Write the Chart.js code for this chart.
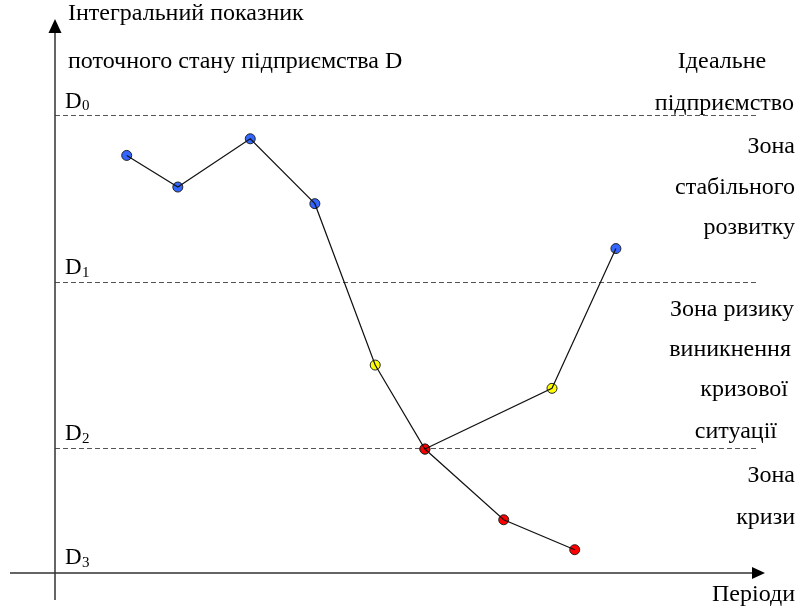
<!DOCTYPE html>
<html>
<head>
<meta charset="utf-8">
<script src="https://cdn.jsdelivr.net/npm/chart.js@4/dist/chart.umd.min.js"></script>
<style>
  html, body { margin: 0; padding: 0; background: #fff; }
  #wrap { width: 797px; height: 608px; position: relative; }
</style>
</head>
<body>
<div id="wrap"><canvas id="zoneChart"></canvas></div>
<script>
// періоди (x) і значення показника D (y)
const periods    = [1.01, 1.73, 2.75, 3.66, 4.51, 5.21, 6.32, 7.32];
const values     = [2.51, 2.32, 2.61, 2.22, 1.25, 0.745, 0.32, 0.14];
const zoneColors = ['#3366ff', '#3366ff', '#3366ff', '#3366ff', '#ffff00', '#ff0000', '#ff0000', '#ff0000'];

// гілка виходу з кризи
const recoveryPeriods = [5.21, 7.0, 7.9];
const recoveryValues  = [0.745, 1.11, 1.95];
const recoveryColors  = ['#ff0000', '#ffff00', '#3366ff'];

// межі зон D0, D1, D2
const levels      = [2.75, 1.75, 0.75];
const levelLabels = ['0', '1', '2'];

const toXY = (xs, ys) => xs.map((x, i) => ({ x: x, y: ys[i] }));

const serif = '"Liberation Serif", "DejaVu Serif", serif';

/* ▼ осі, пунктирні рівні та підписи */
const schemePlugin = {
  id: 'scheme',
  beforeDatasetsDraw(chart) {
    const { ctx } = chart;
    const xs = chart.scales.x, ys = chart.scales.y;
    const x0 = xs.getPixelForValue(0);
    const y0 = ys.getPixelForValue(0);
    const xEnd = xs.getPixelForValue(10);

    ctx.save();
    // пунктир
    ctx.strokeStyle = '#555';
    ctx.lineWidth = 1;
    ctx.setLineDash([5, 3]);
    levels.forEach(v => {
      const py = Math.round(ys.getPixelForValue(v)) + 0.5;
      ctx.beginPath();
      ctx.moveTo(x0, py);
      ctx.lineTo(757, py);
      ctx.stroke();
    });
    ctx.setLineDash([]);

    // осі
    ctx.strokeStyle = '#333';
    ctx.lineWidth = 1.5;
    ctx.beginPath();
    ctx.moveTo(x0, 600);
    ctx.lineTo(x0, 30);
    ctx.moveTo(10, y0);
    ctx.lineTo(xEnd - 10, y0);
    ctx.stroke();

    ctx.fillStyle = '#000';
    ctx.beginPath();
    ctx.moveTo(x0, 19);
    ctx.lineTo(x0 - 6.5, 33);
    ctx.lineTo(x0 + 6.5, 33);
    ctx.closePath();
    ctx.fill();
    ctx.beginPath();
    ctx.moveTo(xEnd, y0);
    ctx.lineTo(xEnd - 13, y0 - 6);
    ctx.lineTo(xEnd - 13, y0 + 6);
    ctx.closePath();
    ctx.fill();

    // підписи
    ctx.fillStyle = '#000';
    ctx.textBaseline = 'middle';
    const text = (s, x, y, align, size) => {
      ctx.font = (size || 24) + 'px ' + serif;
      ctx.textAlign = align || 'left';
      ctx.fillText(s, x, y);
    };
    text('Інтегральний показник', 68, 14);
    text('поточного стану підприємства D', 68, 62);
    text('Ідеальне', 722, 62, 'center');
    text('підприємство', 794, 104, 'right');
    text('Зона', 795, 147, 'right');
    text('стабільного', 795, 188, 'right');
    text('розвитку', 795, 228, 'right');
    text('Зона ризику', 794, 310, 'right');
    text('виникнення', 791, 350, 'right');
    text('кризової', 788, 390, 'right');
    text('ситуації', 777, 432, 'right');
    text('Зона', 795, 476, 'right');
    text('кризи', 795, 518, 'right');
    text('Періоди', 795, 595, 'right');

    // D0..D3
    const dLabel = (sub, py) => {
      text('D', 65, py, 'left', 23);
      text(sub, 82, py + 5, 'left', 15);
    };
    levels.forEach((v, i) => dLabel(levelLabels[i], ys.getPixelForValue(v) - 14));
    dLabel('3', 558);
    ctx.restore();
  }
};

new Chart(document.getElementById('zoneChart'), {
  type: 'scatter',
  data: {
    datasets: [
      // лінії поверх точок
      { data: toXY(periods, values), showLine: true, borderColor: '#111', borderWidth: 1.2,
        pointRadius: 0, order: 0 },
      { data: toXY(recoveryPeriods, recoveryValues), showLine: true, borderColor: '#111', borderWidth: 1.2,
        pointRadius: 0, order: 0 },
      { data: toXY(periods, values), showLine: false, pointRadius: 5,
        pointBackgroundColor: zoneColors, pointBorderColor: '#222', pointBorderWidth: 1, order: 1 },
      { data: toXY(recoveryPeriods, recoveryValues), showLine: false, pointRadius: 5,
        pointBackgroundColor: recoveryColors, pointBorderColor: '#222', pointBorderWidth: 1, order: 1 }
    ]
  },
  options: {
    responsive: true,
    maintainAspectRatio: false,
    animation: false,
    layout: { padding: { left: 55, right: 32, top: 19, bottom: 35 } },
    plugins: { legend: { display: false }, tooltip: { enabled: false } },
    scales: {
      x: { type: 'linear', min: 0, max: 10, display: false },
      y: { type: 'linear', min: 0, max: 3.33, display: false }
    }
  },
  plugins: [schemePlugin]
});
</script>
</body>
</html>
